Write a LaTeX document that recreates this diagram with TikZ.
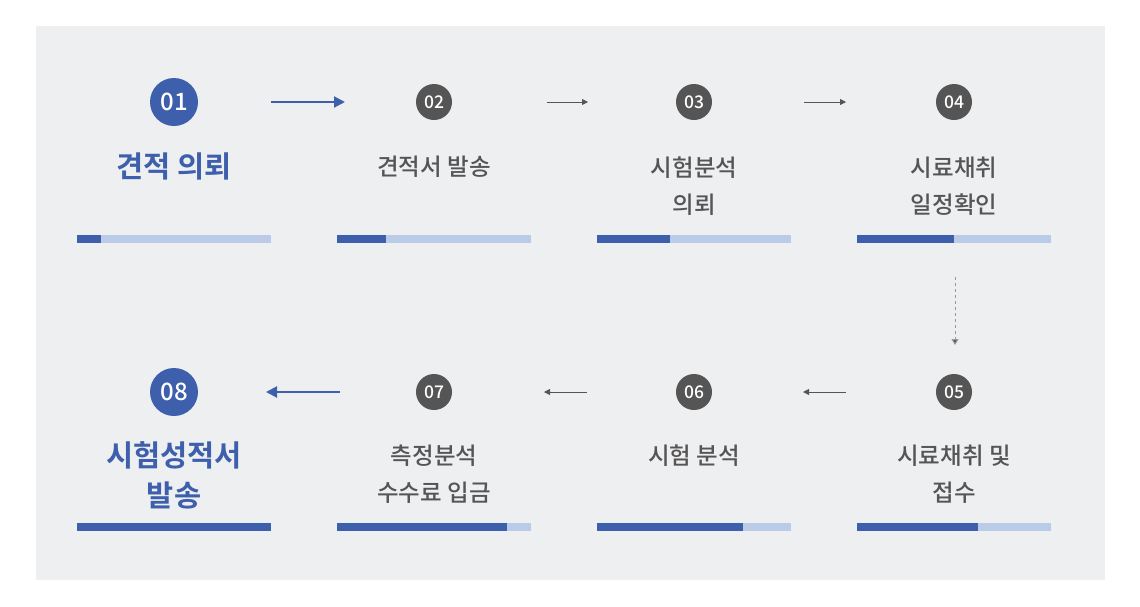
\documentclass[tikz,border=0pt]{standalone}
\usepackage{fontspec}
\setmainfont{Noto Sans CJK KR}
\newfontfamily\krbold{Noto Sans CJK KR Bold}
\newfontfamily\krmed{Noto Sans CJK KR Medium}
\usetikzlibrary{arrows.meta}
\definecolor{bgc}{HTML}{EEEFF1}
\definecolor{blu}{HTML}{3D5FAC}
\definecolor{lblu}{HTML}{BACBE8}
\definecolor{dgray}{HTML}{555555}
\definecolor{tgray}{HTML}{555555}
\definecolor{agray}{HTML}{555555}
\definecolor{dashg}{HTML}{999999}
\tikzset{
  bignum/.style={circle, fill=blu, minimum size=48pt, inner sep=0pt, text=white, font=\krmed\fontsize{24}{24}\selectfont},
  smallnum/.style={circle, fill=dgray, minimum size=36pt, inner sep=0pt, text=white, font=\krmed\fontsize{17.5}{17.5}\selectfont},
  bluelabel/.style={text=blu, align=center, font=\krbold\fontsize{29.5}{40}\selectfont},
  graylabel/.style={text=tgray, align=center, font=\krmed\fontsize{23.5}{37}\selectfont},
  bararrow/.style={draw=blu, line width=2pt, -{Triangle[length=11pt,width=11pt]}},
  thinarrow/.style={draw=agray, line width=0.8pt, -{Triangle[length=6pt,width=6pt]}},
  dasharrow/.style={draw=dashg, line width=1pt, dash pattern=on 3pt off 3pt, -{Triangle[length=6pt,width=7pt,fill=dgray]}},
}
\newcommand{\progbar}[3]{%
  \fill[lblu] (#1-97,#2-4) rectangle (#1+97,#2+4);
  \fill[blu] (#1-97,#2-4) rectangle (#1-97+#3*24.25,#2+4);
}
\begin{document}
\begin{tikzpicture}[x=1pt,y=-1pt]
\useasboundingbox (0,0) rectangle (1140,606);
\fill[white] (0,0) rectangle (1140,606);
\fill[bgc] (36,26) rectangle (1105,580);
% circles
\node[bignum] (c1) at (174,102) {01};
\node[smallnum] (c2) at (434,102) {02};
\node[smallnum] (c3) at (694,102) {03};
\node[smallnum] (c4) at (954,102) {04};
\node[smallnum] (c5) at (954,392) {05};
\node[smallnum] (c6) at (694,392) {06};
\node[smallnum] (c7) at (434,392) {07};
\node[bignum] (c8) at (174,392) {08};
% labels
\node[bluelabel] (t1) at (174,166) {견적 의뢰};
\node[graylabel] (t2) at (434,167) {견적서 발송};
\node[graylabel] (t3) at (694,186) {시험분석\\의뢰};
\node[graylabel] (t4) at (954,186) {시료채취\\일정확인};
\node[graylabel] (t5) at (954,474) {시료채취 및\\접수};
\node[graylabel] (t6) at (694,456) {시험 분석};
\node[graylabel] (t7) at (434,474) {측정분석\\수수료 입금};
\node[bluelabel] (t8) at (174,475) {시험성적서\\발송};
% bars
\progbar{174}{239}{1}
\progbar{434}{239}{2}
\progbar{694}{239}{3}
\progbar{954}{239}{4}
\progbar{954}{527}{5}
\progbar{694}{527}{6}
\progbar{434}{527}{7}
\progbar{174}{527}{8}
% arrow end points
\coordinate (a1s) at (271,102); \coordinate (a1e) at (345,102);
\coordinate (a2s) at (547,102); \coordinate (a2e) at (588,102);
\coordinate (a3s) at (804,102); \coordinate (a3e) at (846,102);
\coordinate (a4s) at (955,277); \coordinate (a4e) at (955,345);
\coordinate (a5s) at (846,392); \coordinate (a5e) at (803,392);
\coordinate (a6s) at (587,392); \coordinate (a6e) at (544,392);
\coordinate (a7s) at (340,392); \coordinate (a7e) at (266,392);
\draw[bararrow] (a1s) -- (a1e);
\draw[thinarrow] (a2s) -- (a2e);
\draw[thinarrow] (a3s) -- (a3e);
\draw[dasharrow] (a4s) -- (a4e);
\draw[thinarrow] (a5s) -- (a5e);
\draw[thinarrow] (a6s) -- (a6e);
\draw[bararrow] (a7s) -- (a7e);
\end{tikzpicture}
\end{document}
